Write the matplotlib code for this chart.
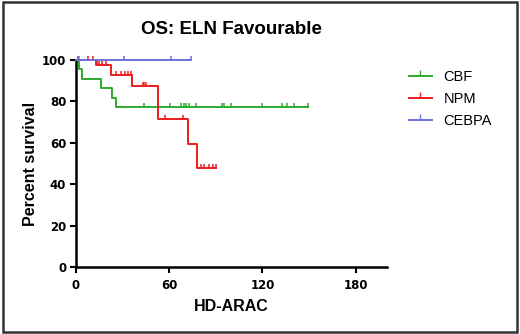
import matplotlib.pyplot as plt
import numpy as np
from matplotlib.lines import Line2D
from matplotlib.patches import Rectangle

plt.rcParams['font.family'] = ['Liberation Sans', 'DejaVu Sans']
plt.rcParams['font.weight'] = 'bold'

# Kaplan-Meier steps (time, percent survival) and censor times
cbf_t = [0, 1.9, 3.8, 16.4, 23.5, 25.6]
cbf_s = [100, 95.5, 90.9, 86.4, 81.8, 77.3]
cbf_end = 149.3
cbf_cens = [43.8, 60.8, 67.7, 69.5, 71, 73, 77, 94, 95.5, 100, 120,
            132.5, 135.5, 140, 149]

npm_t = [0, 12.6, 22.5, 36.3, 52.7, 72, 77.8]
npm_s = [100, 97.5, 92.6, 87.3, 71.5, 59.3, 47.8]
npm_end = 90
npm_cens = [1.5, 7.5, 11, 13.5, 15, 17, 19.6, 26, 29.3, 31.4, 33.5, 35.7,
            43, 44, 45, 57, 69, 80.3, 82.6, 85.8, 88, 90]

cebpa_t = [0]
cebpa_s = [100]
cebpa_end = 73.7
cebpa_cens = [2, 30.7, 61.3, 73.7]

groups = ["CBF", "NPM", "CEBPA"]
colors = ["#2eaa2e", "#ee1c1c", "#7070e0"]

xticks = [0, 60, 120, 180]
yticks = [0, 20, 40, 60, 80, 100]

fig = plt.figure(figsize=(5.2, 3.34), dpi=100)
ax = fig.add_axes([0.146, 0.2006, 0.598, 0.6198])

data = [(cbf_t, cbf_s, cbf_end, cbf_cens),
        (npm_t, npm_s, npm_end, npm_cens),
        (cebpa_t, cebpa_s, cebpa_end, cebpa_cens)]

for (t, s, end, cens), name, c in zip(data, groups, colors):
    tt = np.append(t, end)
    ss = np.append(s, s[-1])
    ax.step(tt, ss, where="post", color=c, lw=1.4, clip_on=False, zorder=3)
    idx = np.searchsorted(t, cens, side="right") - 1
    cs = np.array(s)[idx]
    ax.plot(cens, cs, linestyle="none", marker=2, markersize=3,
            mew=1.1, color=c, clip_on=False, zorder=3)

ax.set_xlim(0, 200)
ax.set_ylim(0, 100)
ax.set_xticks(xticks)
ax.set_yticks(yticks)
for sp in ["top", "right"]:
    ax.spines[sp].set_visible(False)
for sp in ["left", "bottom"]:
    ax.spines[sp].set_linewidth(1.8)
ax.tick_params(direction="out", width=1.5, length=4, pad=3)
ax.tick_params(axis="x", pad=4.5)
for lab in ax.get_xticklabels() + ax.get_yticklabels():
    lab.set_family("DejaVu Sans")
    lab.set_fontsize(8.5)
    lab.set_fontweight("bold")

ax.set_title("OS: ELN Favourable", fontsize=13.5, fontweight="bold", pad=19)
ax.set_xlabel("HD-ARAC", fontsize=11.5, fontweight="bold", labelpad=5)
ax.set_ylabel("Percent survival", fontsize=11.5, fontweight="bold",
              labelpad=3)

handles = [Line2D([0, 0.5, 1], [0, 0, 0], color=c, lw=1.4, marker=2,
                  markersize=4, mew=1.0, markevery=[1]) for c in colors]
leg = fig.legend(handles, groups, loc="upper left",
                 bbox_to_anchor=(0.772, 0.811), frameon=False, borderpad=0,
                 fontsize=10.5, handlelength=1.6, handletextpad=0.8,
                 labelspacing=0.55)
for txt in leg.get_texts():
    txt.set_fontweight("normal")

fig.patches.append(Rectangle((0.005, 0.007), 0.99, 0.986,
                             transform=fig.transFigure, fill=False,
                             edgecolor="#333333", lw=1.8))

fig.savefig("out.png", dpi=100)
